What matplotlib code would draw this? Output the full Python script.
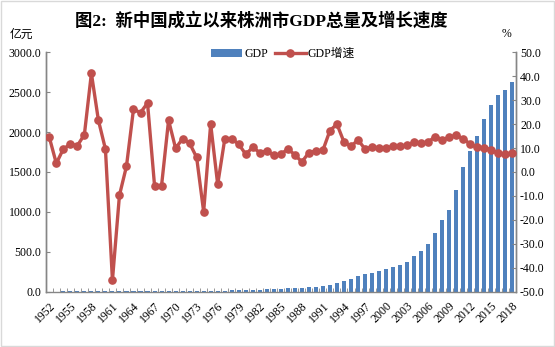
import numpy as np
import matplotlib.pyplot as plt
from matplotlib.patches import Rectangle

# Data
years = list(range(1952, 2019))
gdp = [2.0, 2.3, 2.6, 2.9, 3.3, 3.7, 5.3, 6.4, 7.0, 3.9,
       3.5, 3.6, 4.5, 5.7, 7.3, 6.9, 6.5, 7.9, 8.7, 9.9,
       11.1, 11.8, 9.9, 11.9, 11.3, 12.8,
       17, 19, 21, 23, 25, 28, 32, 36, 40, 45,
       52, 56, 60, 66, 79, 104, 129, 162, 200, 222,
       232, 260, 284, 307, 334, 374, 447, 512, 598, 739,
       898, 1024, 1274, 1566, 1763, 1951, 2164, 2339, 2465, 2528,
       2628]
growth = [14.5, 3.6, 9.6, 11.6, 11.0, 15.6, 41.2, 21.6, 9.6,
          -45.2, -9.7, 2.4, 26.2, 24.8, 28.8, -5.7, -5.7, 21.6,
          9.9, 13.9, 12.0, 6.1, -16.6, 20.0, -5.2, 13.6, 13.9, 11.6,
          7.4, 10.3, 8.1, 8.8, 7.0, 7.4, 9.6, 7.2, 4.2, 8.1,
          8.8, 9.1, 17.3, 20.0, 12.5, 10.7, 13.4, 9.6, 10.4, 9.9,
          9.9, 10.7, 10.7, 11.1, 12.5, 12.0, 12.5, 14.8, 13.4, 14.5,
          15.3, 13.9, 11.6, 10.4, 10.2, 9.3, 7.8, 7.5, 7.8]

serif = ['Liberation Serif', 'Noto Sans CJK SC']
plt.rcParams['font.family'] = serif

blue = '#4F81BD'
red = '#C0504D'
gray = '#868686'

fig = plt.figure(figsize=(5.55, 3.47), dpi=100)
ax = fig.add_axes([0.0825, 0.1594, 0.847, 0.6899])
ax2 = ax.twinx()

x = np.arange(len(years))
bars = ax.bar(x, gdp, width=0.58, color=blue, label='GDP', zorder=2)
line, = ax2.plot(x, growth, color=red, lw=2.4, marker='o', ms=5.2,
                 label='GDP增速', zorder=3)

ax.set_xlim(-0.5, len(years) - 0.5)
ax.set_ylim(0, 3000)
ax2.set_ylim(-50, 50)
ax.set_yticks(np.arange(0, 3001, 500))
ax2.set_yticks(np.arange(-50, 51, 10))
ax.set_yticklabels([f'{v:.1f}' for v in np.arange(0, 3001, 500)], fontsize=8.5)
ax2.set_yticklabels([f'{v:.1f}' for v in np.arange(-50, 51, 10)], fontsize=8.5)

# year labels every 3 years
ax.set_xticks(x[::3])
ax.set_xticklabels([str(y) for y in years[::3]], rotation=45, ha='right',
                   rotation_mode='anchor', fontsize=8.5)
ax.tick_params(axis='x', which='major', length=0, pad=6)
ax.set_xticks(np.arange(-0.5, len(years), 1), minor=True)
ax.tick_params(axis='x', which='minor', direction='in', length=3, color=gray)

ax.tick_params(axis='y', direction='in', length=3, color=gray, pad=3)
ax2.tick_params(axis='y', direction='in', length=3, color=gray, pad=3)

for a in (ax, ax2):
    a.spines['top'].set_visible(False)
    for s in ('left', 'right', 'bottom'):
        a.spines[s].set_color(gray)
        a.spines[s].set_linewidth(1.0)
ax2.spines['bottom'].set_visible(False)

fig.text(0.471, 0.94, '图2:  新中国成立以来株洲市GDP总量及增长速度',
         ha='center', va='center', fontsize=12.5, fontweight='bold',
         family=serif)
fig.text(0.038, 0.902, '亿元', ha='center', va='center', fontsize=8.5,
         family=['Noto Sans CJK SC'])
fig.text(0.912, 0.902, '%', ha='center', va='center', fontsize=8.5)

fig.legend([bars, line], ['GDP', 'GDP增速'], loc='center',
           bbox_to_anchor=(0.51, 0.845), ncol=2, frameon=False,
           fontsize=8.5, handlelength=2.6, columnspacing=0.6,
           handletextpad=0.2, borderpad=0.1)

# chart area border
fig.patches.append(Rectangle((0.002, 0.003), 0.996, 0.994, transform=fig.transFigure,
                             fill=False, edgecolor='#D9D9D9', lw=1.0))

plt.savefig('out.png', dpi=100)
